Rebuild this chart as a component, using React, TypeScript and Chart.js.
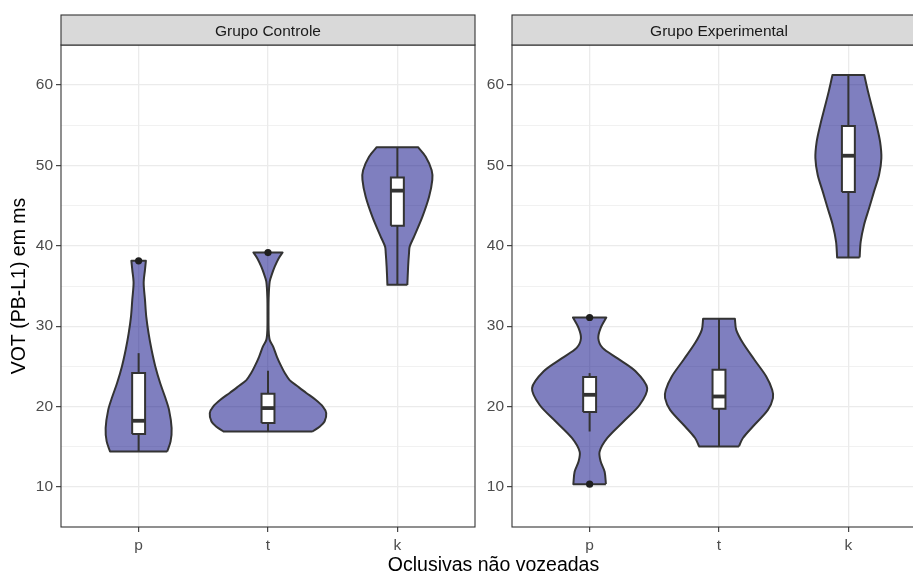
import { useEffect, useRef } from 'react';
import { Chart, registerables } from 'chart.js';

Chart.register(...registerables);

// ---------- data ----------
const categories = ['p', 't', 'k'];
const panelTitles = ['Grupo Controle', 'Grupo Experimental'];
const xAxisTitle = 'Oclusivas não vozeadas';
const yAxisTitle = 'VOT (PB-L1) em ms';
const yMajorTicks = [10, 20, 30, 40, 50, 60];
const yMinorTicks = [15, 25, 35, 45, 55];

// violin outlines: VOT value and half width (x-axis units)
const ctrlP_vot = [14.42, 15.67, 17.33, 19.6, 21.26, 22.9, 25.0, 27.07, 29.1, 31.2, 33.3, 35.4, 37.0, 38.13];
const ctrlP_halfWidth = [0.221, 0.247, 0.255, 0.235, 0.203, 0.167, 0.129, 0.1, 0.077, 0.059, 0.049, 0.039, 0.049, 0.056];
const ctrlT_vot = [16.9, 17.5, 18.15, 19.2, 20.0, 20.85, 21.7, 22.5, 23.3, 24.2, 25.0, 26.2, 27.5, 28.3, 29.5, 31.5, 33.5, 35.55, 36.5, 37.4, 38.4, 39.16];
const ctrlT_halfWidth = [0.342, 0.399, 0.437, 0.45, 0.424, 0.368, 0.296, 0.231, 0.167, 0.129, 0.103, 0.069, 0.039, 0.013, 0.005, 0.004, 0.005, 0.013, 0.031, 0.052, 0.081, 0.113];
const ctrlK_vot = [35.14, 37.4, 39.1, 39.9, 41.15, 43.6, 46.1, 48.2, 49.4, 51.1, 52.26];
const ctrlK_halfWidth = [0.077, 0.083, 0.09, 0.095, 0.129, 0.193, 0.245, 0.27, 0.265, 0.218, 0.16];

const expP_vot = [10.35, 11.9, 13.2, 14.4, 16.1, 18.15, 20.2, 22.3, 24.4, 26.0, 27.3, 28.5, 29.76, 31.08];
const expP_halfWidth = [0.126, 0.116, 0.085, 0.077, 0.137, 0.262, 0.386, 0.445, 0.355, 0.216, 0.1, 0.067, 0.085, 0.129];
const expT_vot = [15.05, 16.1, 17.53, 19.6, 21.06, 22.1, 23.75, 25.8, 27.9, 29.55, 30.92];
const expT_halfWidth = [0.154, 0.185, 0.262, 0.378, 0.417, 0.411, 0.365, 0.275, 0.185, 0.133, 0.123];
const expK_vot = [38.54, 40.5, 42.6, 44.67, 46.74, 48.8, 50.9, 52.95, 55.0, 57.1, 59.17, 61.24];
const expK_halfWidth = [0.087, 0.095, 0.121, 0.16, 0.198, 0.237, 0.255, 0.245, 0.218, 0.185, 0.152, 0.123];

// boxplot statistics (p, t, k)
const ctrl_whiskerLow = [14.42, 16.9, 35.14];
const ctrl_q1 = [16.59, 17.95, 42.48];
const ctrl_median = [18.24, 19.82, 46.86];
const ctrl_q3 = [24.17, 21.6, 48.48];
const ctrl_whiskerHigh = [26.65, 24.45, 52.26];
const ctrl_outliers = [[38.13], [39.16], []];

const exp_whiskerLow = [16.91, 15.05, 38.54];
const exp_q1 = [19.32, 19.73, 46.7];
const exp_median = [21.47, 21.26, 51.2];
const exp_q3 = [23.67, 24.58, 54.9];
const exp_whiskerHigh = [24.17, 30.92, 61.24];
const exp_outliers = [[10.35, 31.08], [], []];

// ---------- style ----------
const FONT = "'Liberation Sans', Arial, Helvetica, sans-serif";
const VIOLIN_FILL = 'rgba(0,0,128,0.5)';
const OUTLINE = '#333333';
const BOX_HALF = 0.05;

type Pt = { x: number; y: number };

function violinPoints(center: number, vot: number[], w: number[]): Pt[] {
  const n = vot.length;
  const right = vot.map((v, i) => ({ x: center + w[i], y: v }));
  const left = vot.map((v, i) => ({ x: center - w[i], y: v }));
  const pts: Pt[] = [right[0]];
  for (let i = 0; i < n; i++) pts.push(right[i]);
  pts.push(right[n - 1]);
  pts.push(left[n - 1]);
  for (let i = n - 1; i >= 0; i--) pts.push(left[i]);
  pts.push(left[0]);
  pts.push(right[0]);
  return pts;
}

function panelDatasets(
  violins: { vot: number[]; w: number[] }[],
  lo: number[], q1: number[], med: number[], q3: number[], hi: number[], outliers: number[][]
) {
  const ds: any[] = [];
  const line = { type: 'scatter', showLine: true, pointRadius: 0, pointHoverRadius: 0, fill: false, borderColor: OUTLINE };
  violins.forEach((v, i) => {
    ds.push({
      ...line,
      data: violinPoints(i + 1, v.vot, v.w),
      fill: 'shape',
      backgroundColor: VIOLIN_FILL,
      borderWidth: 2,
      tension: 0.3,
      borderJoinStyle: 'round',
      order: 6,
    });
  });
  categories.forEach((_, i) => {
    const c = i + 1;
    ds.push({ ...line, data: [{ x: c, y: q3[i] }, { x: c, y: hi[i] }], borderWidth: 2, order: 5 });
    ds.push({ ...line, data: [{ x: c, y: q1[i] }, { x: c, y: lo[i] }], borderWidth: 2, order: 5 });
    ds.push({
      ...line,
      data: [
        { x: c - BOX_HALF, y: q1[i] }, { x: c + BOX_HALF, y: q1[i] },
        { x: c + BOX_HALF, y: q3[i] }, { x: c - BOX_HALF, y: q3[i] },
        { x: c - BOX_HALF, y: q1[i] },
      ],
      fill: 'shape',
      backgroundColor: '#ffffff',
      borderWidth: 2,
      borderJoinStyle: 'miter',
      order: 4,
    });
    ds.push({ ...line, data: [{ x: c - BOX_HALF, y: med[i] }, { x: c + BOX_HALF, y: med[i] }], borderWidth: 3.8, order: 3 });
  });
  const outPts: Pt[] = [];
  outliers.forEach((arr, i) => arr.forEach((v) => outPts.push({ x: i + 1, y: v })));
  ds.push({
    type: 'scatter',
    data: outPts,
    pointRadius: 3.6,
    pointBackgroundColor: '#1f1f1f',
    pointBorderWidth: 0,
    showLine: false,
    order: 1,
  });
  return ds;
}

const facetPlugin = {
  id: 'facet',
  afterDraw(chart: any, _args: any, opts: any) {
    const { ctx, chartArea: a } = chart;
    ctx.save();
    ctx.strokeStyle = OUTLINE;
    ctx.lineWidth = 1.1;
    ctx.strokeRect(a.left, a.top, a.right - a.left, a.bottom - a.top);
    const sh = opts.stripHeight;
    ctx.fillStyle = '#D9D9D9';
    ctx.fillRect(a.left, a.top - sh, a.right - a.left, sh);
    ctx.strokeRect(a.left, a.top - sh, a.right - a.left, sh);
    ctx.fillStyle = '#1A1A1A';
    ctx.font = `15.5px ${FONT}`;
    ctx.textAlign = 'center';
    ctx.textBaseline = 'middle';
    ctx.fillText(opts.title, (a.left + a.right) / 2, a.top - sh / 2 + 2);
    if (opts.xTitle) {
      ctx.fillStyle = '#000000';
      ctx.font = `19.5px ${FONT}`;
      ctx.textBaseline = 'alphabetic';
      ctx.fillText(opts.xTitle, opts.xTitleX, opts.xTitleY);
    }
    ctx.restore();
  },
};

function makeConfig(datasets: any[], title: string, yWidth: number, padRight: number, showYTitle: boolean, xTitle: string | null) {
  const allY = [...yMajorTicks, ...yMinorTicks].sort((a, b) => a - b);
  const isMajor = (c: any) => c.tick && yMajorTicks.includes(c.tick.value);
  return {
    type: 'scatter',
    data: { datasets },
    plugins: [facetPlugin],
    options: {
      animation: false,
      responsive: false,
      events: [],
      layout: { padding: { left: 0, top: 45, right: padRight, bottom: 0 } },
      plugins: {
        legend: { display: false },
        tooltip: { enabled: false },
        facet: { title, stripHeight: 30, xTitle, xTitleX: 493.5, xTitleY: 571 },
      },
      scales: {
        x: {
          type: 'linear',
          min: 0.4,
          max: 3.6,
          afterBuildTicks: (s: any) => { s.ticks = categories.map((_, i) => ({ value: i + 1 })); },
          afterFit: (s: any) => { s.height = 45; },
          ticks: {
            autoSkip: false,
            maxRotation: 0,
            padding: 4,
            color: '#4D4D4D',
            font: { family: FONT, size: 15.5 },
            callback: (v: number) => categories[Math.round(v) - 1] ?? '',
          },
          grid: { color: '#EBEBEB', lineWidth: 1.3, tickColor: OUTLINE, tickLength: 5, tickWidth: 1.1 },
          border: { display: false },
          title: { display: false },
        },
        y: {
          type: 'linear',
          min: 5.03,
          max: 64.97,
          afterBuildTicks: (s: any) => { s.ticks = allY.map((v) => ({ value: v })); },
          afterFit: (s: any) => { s.width = yWidth; },
          ticks: {
            autoSkip: false,
            padding: 3,
            color: '#4D4D4D',
            font: { family: FONT, size: 15.5 },
            callback: (v: number) => (yMajorTicks.includes(v) ? String(v) : ''),
          },
          grid: {
            color: '#EBEBEB',
            lineWidth: (c: any) => (isMajor(c) ? 1.3 : 0.7),
            tickColor: (c: any) => (isMajor(c) ? OUTLINE : 'rgba(0,0,0,0)'),
            tickLength: 5,
            tickWidth: 1.1,
          },
          border: { display: false },
          title: {
            display: showYTitle,
            text: yAxisTitle,
            color: '#000000',
            font: { family: FONT, size: 19.5 },
            padding: { top: 8, bottom: 0 },
          },
        },
      },
    },
  };
}

export default function App() {
  const refA = useRef<HTMLCanvasElement>(null);
  const refB = useRef<HTMLCanvasElement>(null);

  useEffect(() => {
    const dsA = panelDatasets(
      [
        { vot: ctrlP_vot, w: ctrlP_halfWidth },
        { vot: ctrlT_vot, w: ctrlT_halfWidth },
        { vot: ctrlK_vot, w: ctrlK_halfWidth },
      ],
      ctrl_whiskerLow, ctrl_q1, ctrl_median, ctrl_q3, ctrl_whiskerHigh, ctrl_outliers
    );
    const dsB = panelDatasets(
      [
        { vot: expP_vot, w: expP_halfWidth },
        { vot: expT_vot, w: expT_halfWidth },
        { vot: expK_vot, w: expK_halfWidth },
      ],
      exp_whiskerLow, exp_q1, exp_median, exp_q3, exp_whiskerHigh, exp_outliers
    );
    const a = new Chart(refA.current as any, makeConfig(dsA, panelTitles[0], 61, 438, true, xAxisTitle) as any);
    const b = new Chart(refB.current as any, makeConfig(dsB, panelTitles[1], 36, 10, false, null) as any);
    return () => { a.destroy(); b.destroy(); };
  }, []);

  return (
    <div style={{ position: 'fixed', left: 0, top: 0, width: 913, height: 572, overflow: 'hidden', background: '#ffffff' }}>
      <canvas ref={refA} width={913} height={572} style={{ position: 'absolute', left: 0, top: 0, width: 913, height: 572 }} />
      <canvas ref={refB} width={460} height={572} style={{ position: 'absolute', left: 476, top: 0, width: 460, height: 572 }} />
    </div>
  );
}
